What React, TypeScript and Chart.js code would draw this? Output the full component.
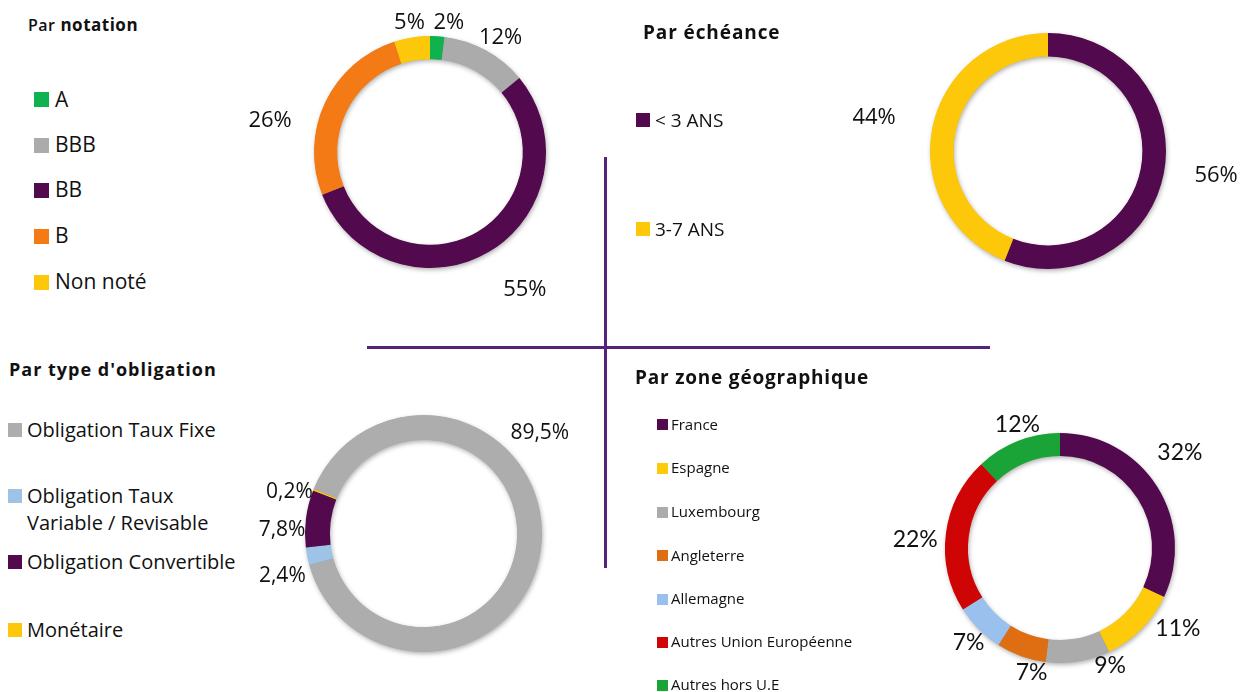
import React, { useEffect, useRef } from 'react';
import { Chart, registerables } from 'chart.js';

Chart.register(...registerables);

// ---------- DATA ----------
const notationLabels = ['A', 'BBB', 'BB', 'B', 'Non noté'];
const notationValues = [2, 12, 55, 26, 5];

const echeanceLabels = ['< 3 ANS', '3-7 ANS'];
const echeanceValues = [56, 44];

const typeLabels = ['Obligation Taux Fixe', 'Obligation Taux Variable / Revisable', 'Obligation Convertible', 'Monétaire'];
const typeValues = [89.5, 2.4, 7.8, 0.2];

const zoneLabels = ['France', 'Espagne', 'Luxembourg', 'Angleterre', 'Allemagne', 'Autres Union Européenne', 'Autres hors U.E'];
const zoneValues = [32, 11, 9, 7, 7, 22, 12];

// ---------- STYLES ----------
const PURPLE = '#52094e';
const notationColors = ['#0fb24f', '#ababab', PURPLE, '#f37a15', '#fec80a'];
const echeanceColors = [PURPLE, '#fec80a'];
const typeColors = ['#adadad', '#9dc3e6', PURPLE, '#fec80a'];
const zoneColors = [PURPLE, '#fdcb0c', '#ababab', '#df6d12', '#9ac0ee', '#cf0404', '#1aa336'];

const fmtInt = (v: number) => `${v}%`;
const fmtDec = (v: number) => `${v.toFixed(1).replace('.', ',')}%`;

const ringShadow = {
  id: 'ringShadow',
  beforeDatasetsDraw(chart: any) {
    const meta = chart.getDatasetMeta(0);
    const el = meta.data[0];
    if (!el) return;
    const { x, y, outerRadius, innerRadius } = el.getProps(['x', 'y', 'outerRadius', 'innerRadius'], true);
    const ctx = chart.ctx;
    ctx.save();
    ctx.shadowColor = 'rgba(0,0,0,0.35)';
    ctx.shadowBlur = 5;
    ctx.shadowOffsetX = 1;
    ctx.shadowOffsetY = 2;
    ctx.beginPath();
    ctx.arc(x, y, outerRadius - 0.5, 0, Math.PI * 2, false);
    ctx.arc(x, y, innerRadius + 0.5, 0, Math.PI * 2, true);
    ctx.closePath();
    ctx.fillStyle = '#888';
    ctx.fill();
    ctx.restore();
  },
};

const outLabels = {
  id: 'outLabels',
  afterDatasetsDraw(chart: any, _args: any, opts: any) {
    const meta = chart.getDatasetMeta(0);
    const ds = chart.data.datasets[0];
    const ctx = chart.ctx;
    ctx.save();
    ctx.font = opts.font;
    ctx.fillStyle = opts.color || '#111';
    ctx.textAlign = 'center';
    ctx.textBaseline = 'middle';
    meta.data.forEach((el: any, i: number) => {
      const { x, y, startAngle, endAngle, outerRadius } = el.getProps(['x', 'y', 'startAngle', 'endAngle', 'outerRadius'], true);
      const adj = (opts.adjust && opts.adjust[i]) || [0, 20];
      const mid = (startAngle + endAngle) / 2 + (adj[0] * Math.PI) / 180;
      const r = outerRadius + adj[1];
      ctx.fillText(opts.format(ds.data[i]), x + Math.cos(mid) * r, y + Math.sin(mid) * r);
    });
    ctx.restore();
  },
};

type DonutProps = {
  cx: number; cy: number; r: number; cutout: string; rotation: number;
  labels: string[]; values: number[]; colors: string[];
  format: (v: number) => string; adjust: number[][]; font: string;
};

function Donut(p: DonutProps) {
  const ref = useRef<HTMLCanvasElement>(null);
  const W = Math.round(2 * p.r + 220);
  const H = Math.round(2 * p.r + 150);
  useEffect(() => {
    const chart = new Chart(ref.current as HTMLCanvasElement, {
      type: 'doughnut',
      data: {
        labels: p.labels,
        datasets: [{ data: p.values, backgroundColor: p.colors, borderWidth: 0, hoverOffset: 0 }],
      },
      options: {
        responsive: false,
        maintainAspectRatio: false,
        animation: false,
        devicePixelRatio: 1,
        cutout: p.cutout,
        rotation: p.rotation,
        layout: { padding: { left: W / 2 - p.r, right: W / 2 - p.r, top: H / 2 - p.r, bottom: H / 2 - p.r } },
        plugins: {
          legend: { display: false },
          tooltip: { enabled: false },
          outLabels: { format: p.format, adjust: p.adjust, font: p.font, color: '#111' },
        } as any,
      },
      plugins: [ringShadow, outLabels],
    });
    return () => chart.destroy();
  }, []);
  return (
    <canvas
      ref={ref}
      width={W}
      height={H}
      style={{ position: 'absolute', left: p.cx - W / 2, top: p.cy - H / 2, width: W, height: H }}
    />
  );
}

function Item({ x, y, size, color, textX, fontSize, children, family }: any) {
  return (
    <>
      <div style={{ position: 'absolute', left: x, top: y - size / 2, width: size, height: size, background: color }} />
      <div
        style={{
          position: 'absolute', left: textX, top: y, transform: 'translateY(-50%)',
          fontSize, fontFamily: family, color: '#111', whiteSpace: 'nowrap', lineHeight: 1.3,
        }}
      >
        {children}
      </div>
    </>
  );
}

const TITLE_FONT = '"Open Sans", "Noto Sans", sans-serif';
const TEXT_FONT = '"Open Sans", "Noto Sans", sans-serif';

function Title({ x, y, size, spacing, children }: any) {
  return (
    <div style={{ position: 'absolute', left: x, top: y, transform: 'translateY(-50%)', fontFamily: TITLE_FONT, fontWeight: 700, fontSize: size, letterSpacing: spacing, color: '#111', whiteSpace: 'nowrap' }}>
      {children}
    </div>
  );
}

export default function App() {
  useEffect(() => {
    document.body.style.margin = '0';
  }, []);
  const notY = [99.5, 145, 190, 236, 282];
  const zoneY = [424.5, 468, 512, 555.5, 599, 642, 685];
  return (
    <div style={{ position: 'absolute', left: 0, top: 0, width: 1240, height: 692, background: '#fff', overflow: 'hidden' }}>
      {/* divider lines */}
      <div style={{ position: 'absolute', left: 367, top: 346, width: 623, height: 3, background: '#54237a' }} />
      <div style={{ position: 'absolute', left: 604, top: 157, width: 3, height: 411, background: '#54237a' }} />

      {/* Par notation */}
      <Title x={28} y={24} size={17} spacing={0.5}><span style={{ fontSize: 16, fontWeight: 600 }}>Par</span> notation</Title>
      {notationLabels.map((l, i) => (
        <Item key={l} x={34} y={notY[i]} size={15} color={notationColors[i]} textX={55} fontSize={21} family={TEXT_FONT}>{l}</Item>
      ))}
      <Donut cx={430} cy={152} r={116} cutout="80%" rotation={0}
        labels={notationLabels} values={notationValues} colors={notationColors} format={fmtInt}
        adjust={[[4.7, 15], [3, 18], [-4, 51], [-14, 47], [0, 15]]}
        font={'22px "Open Sans", sans-serif'} />

      {/* Par échéance */}
      <Title x={643} y={32} size={19} spacing={0.9}>Par échéance</Title>
      {echeanceLabels.map((l, i) => (
        <Item key={l} x={636} y={[120, 229][i]} size={14} color={echeanceColors[i]} textX={655} fontSize={19} family={TEXT_FONT}>{l}</Item>
      ))}
      <Donut cx={1048} cy={151} r={118} cutout="80%" rotation={0}
        labels={echeanceLabels} values={echeanceValues} colors={echeanceColors} format={fmtInt}
        adjust={[[-2.3, 52], [0, 59]]}
        font={'22px "Open Sans", sans-serif'} />

      {/* Par type d'obligation */}
      <Title x={9} y={369} size={18} spacing={1}>Par type d'obligation</Title>
      <Item x={8} y={429.5} size={14} color={typeColors[0]} textX={27} fontSize={20} family={TEXT_FONT}>{typeLabels[0]}</Item>
      <div style={{ position: 'absolute', left: 8, top: 489, width: 14, height: 14, background: typeColors[1] }} />
      <div style={{ position: 'absolute', left: 27, top: 482, fontSize: 20, fontFamily: TEXT_FONT, color: '#111', lineHeight: '27px', whiteSpace: 'nowrap' }}>
        Obligation Taux<br />Variable / Revisable
      </div>
      <Item x={8} y={562} size={14} color={typeColors[2]} textX={27} fontSize={20} family={TEXT_FONT}>{typeLabels[2]}</Item>
      <Item x={8} y={629.5} size={14} color={typeColors[3]} textX={27} fontSize={20} family={TEXT_FONT}>{typeLabels[3]}</Item>
      <Donut cx={423.5} cy={533.5} r={118.5} cutout="79%" rotation={-68}
        labels={typeLabels} values={typeValues} colors={typeColors} format={fmtDec}
        adjust={[[-44, 35], [-5.7, 29], [-6, 23], [-4.3, 22]]}
        font={'21px "Open Sans", sans-serif'} />

      {/* Par zone géographique */}
      <Title x={635} y={377} size={19} spacing={0.8}>Par zone géographique</Title>
      {zoneLabels.map((l, i) => (
        <Item key={l} x={657} y={zoneY[i]} size={11} color={zoneColors[i]} textX={671} fontSize={15} family={TEXT_FONT}>{l}</Item>
      ))}
      <Donut cx={1060} cy={548} r={115} cutout="80%" rotation={0}
        labels={zoneLabels} values={zoneValues} colors={zoneColors} format={fmtInt}
        adjust={[[-6, 38], [-10.5, 28], [-14, 13], [-7, 13], [-1, 16.5], [-4, 30], [2.6, 16]]}
        font={'23px Lato, sans-serif'} />
    </div>
  );
}
